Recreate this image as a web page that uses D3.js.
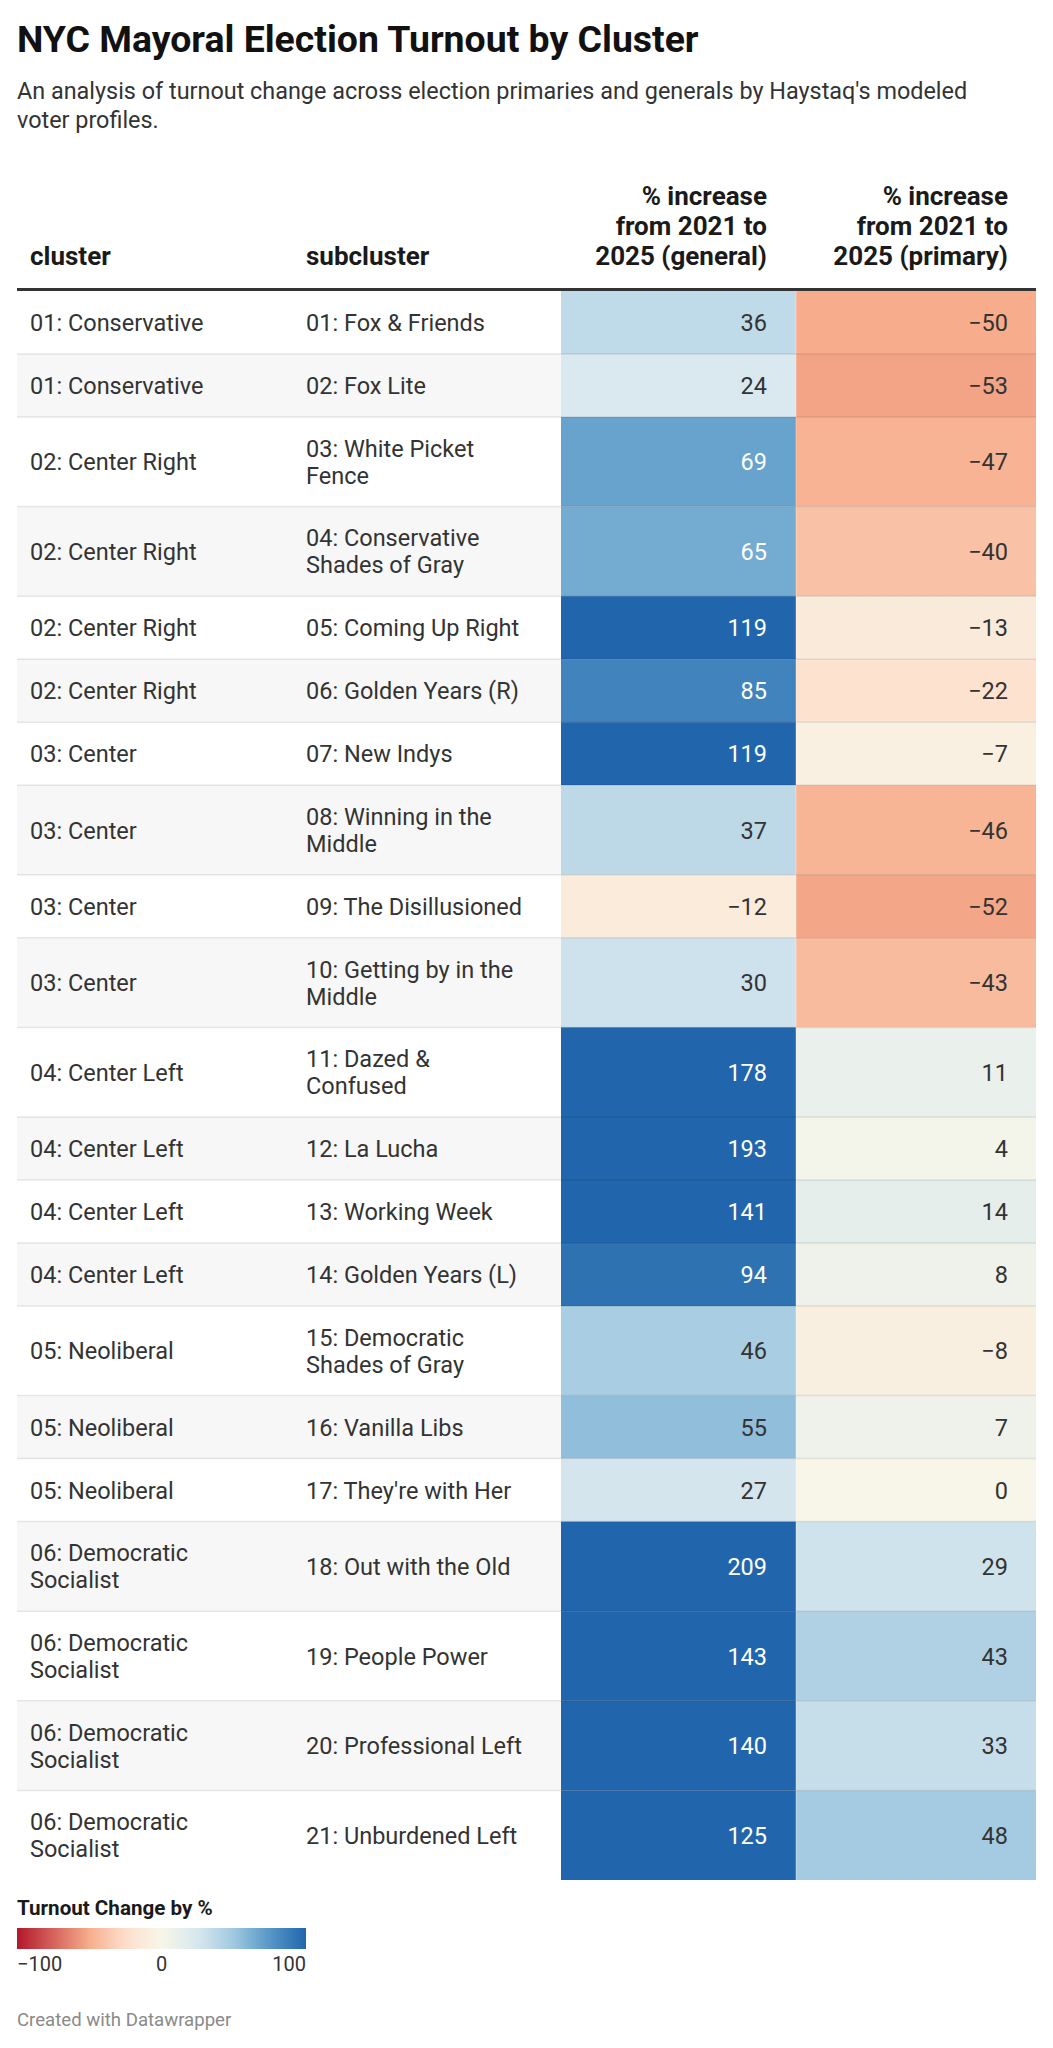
<!DOCTYPE html>
<html>
<head>
<meta charset="utf-8">
<script src="https://cdn.jsdelivr.net/npm/d3@7"></script>
<style>
  body { margin: 0; background: #fff; }
  svg { display: block; font-family: Roboto, "Noto Sans", sans-serif; }
</style>
</head>
<body>
<svg id="chart"></svg>
<script>
// table values, one entry per row (line breaks as in the original)
const clusters = [
  '01: Conservative', '01: Conservative', '02: Center Right', '02: Center Right',
  '02: Center Right', '02: Center Right', '03: Center', '03: Center', '03: Center',
  '03: Center', '04: Center Left', '04: Center Left', '04: Center Left',
  '04: Center Left', '05: Neoliberal', '05: Neoliberal', '05: Neoliberal',
  '06: Democratic\nSocialist', '06: Democratic\nSocialist',
  '06: Democratic\nSocialist', '06: Democratic\nSocialist'
];
const subclusters = [
  '01: Fox & Friends', '02: Fox Lite', '03: White Picket\nFence',
  '04: Conservative\nShades of Gray', '05: Coming Up Right', '06: Golden Years (R)',
  '07: New Indys', '08: Winning in the\nMiddle', '09: The Disillusioned',
  '10: Getting by in the\nMiddle', '11: Dazed &\nConfused', '12: La Lucha',
  '13: Working Week', '14: Golden Years (L)', '15: Democratic\nShades of Gray',
  '16: Vanilla Libs', "17: They're with Her", '18: Out with the Old',
  '19: People Power', '20: Professional Left', '21: Unburdened Left'
];
const general = [36, 24, 69, 65, 119, 85, 119, 37, -12, 30, 178, 193, 141, 94, 46, 55, 27, 209, 143, 140, 125];
const primary = [-50, -53, -47, -40, -13, -22, -7, -46, -52, -43, 11, 4, 14, 8, -8, 7, 0, 29, 43, 33, 48];
const headers = ['cluster', 'subcluster', '% increase\nfrom 2021 to\n2025 (general)', '% increase\nfrom 2021 to\n2025 (primary)'];
const legendTicks = [-100, 0, 100];

const width = 1053, height = 2048;
const left = 17, right = 1036;
const singleH = 63, doubleH = 89.6, lineH = 27;
const tableTop = 291;
const fs = 23.5;

const svg = d3.select('#chart').attr('width', width).attr('height', height);
svg.append('rect').attr('width', width).attr('height', height).attr('fill', '#fff');

// diverging colour scale, clamped at +-100
const color = d3.scaleLinear()
  .domain([-100, -50, -25, 0, 25, 50, 75, 100])
  .range(['#b2182b', '#f7ad8c', '#fcdfcc', '#f8f6e9', '#d8e8ef', '#a0c8e0', '#5697c7', '#2166ac'])
  .clamp(true);

// title + description
svg.append('text').attr('x', left).attr('y', 52)
  .attr('font-size', 37.4).attr('font-weight', 700).attr('fill', '#111')
  .text('NYC Mayoral Election Turnout by Cluster');
const desc = ["An analysis of turnout change across election primaries and generals by Haystaq's modeled", 'voter profiles.'];
svg.append('g').selectAll('text').data(desc).join('text')
  .attr('x', left).attr('y', (d, i) => 99 + i * 29)
  .attr('font-size', 23.4).attr('fill', '#333')
  .text(d => d);

// rows
const rows = clusters.map((c, i) => {
  const lines = Math.max(c.split('\n').length, subclusters[i].split('\n').length);
  return { i, cluster: c, sub: subclusters[i], general: general[i], primary: primary[i], h: lines > 1 ? doubleH : singleH };
});
let acc = tableTop;
rows.forEach(r => { r.y = acc; acc += r.h; });

// columns: text x position and anchor
const cols = [
  { x: 30, anchor: 'start' },
  { x: 306, anchor: 'start' },
  { x: 767, anchor: 'end', x0: 561, x1: 796 },
  { x: 1008, anchor: 'end', x0: 796, x1: right }
];

// header
const head = svg.append('g');
headers.forEach((h, j) => {
  const lines = h.split('\n');
  head.append('text')
    .attr('x', cols[j].x).attr('text-anchor', cols[j].anchor)
    .attr('font-size', 26).attr('font-weight', 700).attr('fill', '#1a1a1a')
    .selectAll('tspan').data(lines).join('tspan')
    .attr('x', cols[j].x)
    .attr('y', (d, k) => 265 - (lines.length - 1 - k) * 30)
    .text(d => d);
});

const body = svg.append('g');

// zebra stripes on text columns
body.selectAll('rect.stripe').data(rows.filter(r => r.i % 2 === 1)).join('rect')
  .attr('class', 'stripe')
  .attr('x', left).attr('y', d => d.y).attr('width', cols[2].x0 - left).attr('height', d => d.h)
  .attr('fill', '#f7f7f7');

// heat cells
['general', 'primary'].forEach((key, k) => {
  const c = cols[k + 2];
  body.selectAll('rect.' + key).data(rows).join('rect')
    .attr('class', key)
    .attr('x', c.x0).attr('y', d => d.y).attr('width', c.x1 - c.x0).attr('height', d => d.h)
    .attr('fill', d => color(d[key]));
  body.selectAll('text.' + key).data(rows).join('text')
    .attr('class', key)
    .attr('x', c.x).attr('y', d => d.y + d.h / 2 + 8.5)
    .attr('text-anchor', 'end').attr('font-size', fs)
    .attr('fill', d => Math.abs(d[key]) >= 60 ? '#fff' : '#333')
    .text(d => d3.format('d')(d[key]).replace('-', '\u2212'));
});

// thin separator between the two heat columns
body.append('line')
  .attr('x1', cols[3].x0).attr('x2', cols[3].x0)
  .attr('y1', tableTop).attr('y2', acc)
  .attr('stroke', 'rgba(255,255,255,0.35)').attr('stroke-width', 1);

// text cells
[['cluster', 0], ['sub', 1]].forEach(([key, j]) => {
  body.selectAll('text.' + key).data(rows).join('text')
    .attr('class', key)
    .attr('x', cols[j].x).attr('font-size', fs).attr('fill', '#333')
    .each(function (d) {
      const lines = d[key].split('\n');
      const y0 = d.y + d.h / 2 + 8.5 - (lines.length - 1) * lineH / 2;
      d3.select(this).selectAll('tspan').data(lines).join('tspan')
        .attr('x', cols[j].x)
        .attr('y', (l, k) => y0 + k * lineH)
        .text(l => l);
    });
});

// row borders
body.selectAll('line.border').data(rows.slice(0, -1)).join('line')
  .attr('class', 'border')
  .attr('x1', left).attr('x2', right)
  .attr('y1', d => d.y + d.h).attr('y2', d => d.y + d.h)
  .attr('stroke', 'rgba(0,0,0,0.09)').attr('stroke-width', 1.5);

// header rule
svg.append('line')
  .attr('x1', left).attr('x2', right).attr('y1', 289.5).attr('y2', 289.5)
  .attr('stroke', '#333').attr('stroke-width', 3);

// legend
const lx = d3.scaleLinear().domain([-100, 100]).range([17, 306]);
const defs = svg.append('defs');
const grad = defs.append('linearGradient').attr('id', 'lg');
grad.selectAll('stop').data(d3.range(-100, 101, 10)).join('stop')
  .attr('offset', d => ((d + 100) / 200 * 100) + '%')
  .attr('stop-color', d => color(d));

const legend = svg.append('g');
legend.append('text').attr('x', 17).attr('y', 1915)
  .attr('font-size', 20.6).attr('font-weight', 700).attr('fill', '#1a1a1a')
  .text('Turnout Change by %');
legend.append('rect')
  .attr('x', lx(-100)).attr('y', 1928).attr('width', lx(100) - lx(-100)).attr('height', 21)
  .attr('fill', 'url(#lg)');
legend.selectAll('text.tick').data(legendTicks).join('text')
  .attr('class', 'tick')
  .attr('x', d => lx(d)).attr('y', 1971)
  .attr('text-anchor', (d, i) => i === 0 ? 'start' : (i === legendTicks.length - 1 ? 'end' : 'middle'))
  .attr('font-size', 20).attr('fill', '#333')
  .text(d => String(d).replace('-', '\u2212'));

// footer
svg.append('text').attr('x', 17).attr('y', 2026)
  .attr('font-size', 18.6).attr('fill', '#8a8a8a')
  .text('Created with Datawrapper');
</script>
</body>
</html>
